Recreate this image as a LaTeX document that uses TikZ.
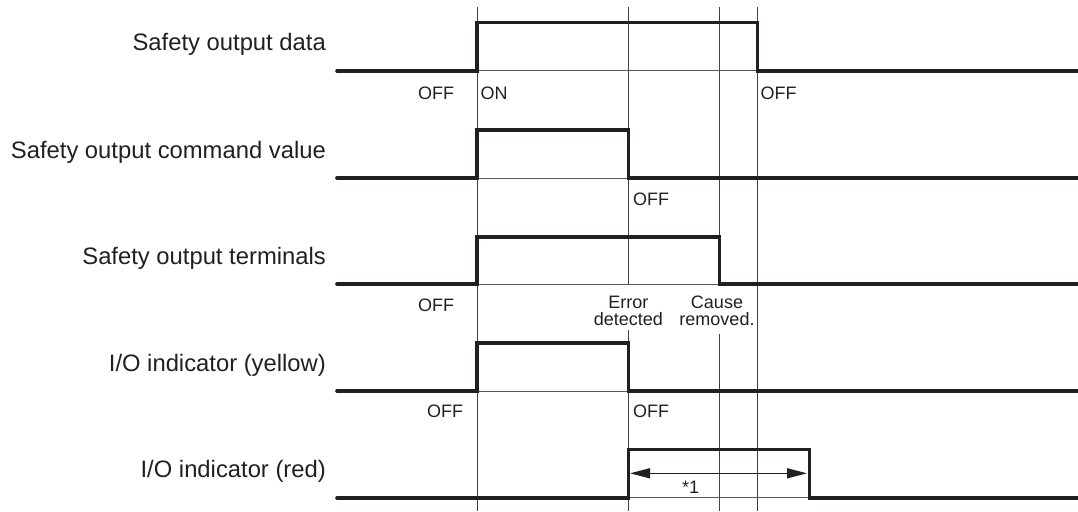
\documentclass[tikz,border=0pt]{standalone}
\usepackage{fontspec}
\setmainfont{Liberation Sans}
\usetikzlibrary{arrows.meta}
\definecolor{ink}{HTML}{231F20}
\begin{document}
\begin{tikzpicture}[x=1pt,y=-1pt,
  sig/.style={line width=3.6pt, draw=ink, line cap=round, line join=miter},
  base/.style={line width=1pt, draw=ink!75},
  grid/.style={line width=1pt, draw=ink!85},
  lab/.style={anchor=base east, font=\fontsize{23.8}{28}\selectfont, text=ink, inner sep=0pt},
  small/.style={anchor=base west, font=\fontsize{18}{21}\selectfont, text=ink, inner sep=0pt},
  smallc/.style={anchor=base, font=\fontsize{18}{21}\selectfont, text=ink, inner sep=0pt},
  dim/.style={line width=1.5pt, draw=ink, {Triangle[length=20pt,width=10pt]}-{Triangle[length=20pt,width=10pt]}},
]
\useasboundingbox (0,0) rectangle (1078,511);

% vertical timing lines
\draw[grid] (477,7) -- (477,511);
\draw[grid] (628.3,7) -- (628.3,284) (628.3,330) -- (628.3,511);
\draw[grid] (719.3,7) -- (719.3,284) (719.3,334) -- (719.3,511);
\draw[grid] (757.5,7) -- (757.5,511);

% thin baselines under pulses
\draw[base] (477,70.7) -- (757.5,70.7);
\draw[base] (477,178) -- (628.3,178);
\draw[base] (477,284) -- (719.3,284);
\draw[base] (477,391) -- (628.3,391);
\draw[base] (628.3,497.7) -- (809.3,497.7);

% signals
\draw[sig] (337,70.7) -- (477,70.7) -- (477,22.7) -- (757.5,22.7) -- (757.5,70.7) -- (1080,70.7);
\draw[sig] (337,178) -- (477,178) -- (477,130) -- (628.3,130) -- (628.3,178) -- (1080,178);
\draw[sig] (337,284) -- (477,284) -- (477,236.7) -- (719.3,236.7) -- (719.3,284) -- (1080,284);
\draw[sig] (337,391) -- (477,391) -- (477,343) -- (628.3,343) -- (628.3,391) -- (1080,391);
\draw[sig] (337,497.7) -- (628.3,497.7) -- (628.3,449.3) -- (809.3,449.3) -- (809.3,497.7) -- (1080,497.7);

% dimension arrow
\coordinate (dimL) at (630,473.3);
\coordinate (dimR) at (807,473.3);
\draw[dim] (dimL) -- (dimR);
\node[small] (star) at (682,493) {*1};

% signal names
\node[lab] (n1) at (326,50.7) {Safety output data};
\node[lab] (n2) at (326,158) {Safety output command value};
\node[lab] (n3) at (326,264) {Safety output terminals};
\node[lab] (n4) at (326,371) {I/O indicator (yellow)};
\node[lab] (n5) at (326,477.7) {I/O indicator (red)};

% state labels
\node[small] (off1a) at (418,99) {OFF};
\node[small] (on1) at (480.5,99) {ON};
\node[small] (off1b) at (760.5,99) {OFF};
\node[small] (off2) at (633,205) {OFF};
\node[small] (off3) at (418,311) {OFF};
\node[smallc] (err1) at (628.3,308) {Error};
\node[smallc] (err2) at (628.3,325.7) {detected};
\node[smallc] (cause1) at (717,308) {Cause};
\node[smallc] (cause2) at (717,325.7) {removed.};
\node[small] (off4a) at (427,417) {OFF};
\node[small] (off4b) at (633,417) {OFF};
\end{tikzpicture}
\end{document}
